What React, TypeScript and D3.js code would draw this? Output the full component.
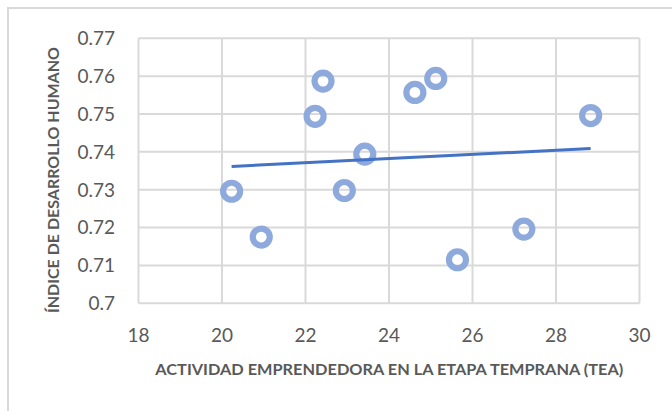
import React from "react";
import * as d3 from "d3";

const tea: number[] = [20.23, 20.94, 22.23, 22.42, 22.93, 23.42, 24.62, 25.12, 25.64, 27.23, 28.83];
const idh: number[] = [0.7296, 0.7175, 0.7494, 0.7587, 0.7298, 0.7394, 0.7557, 0.7594, 0.7115, 0.7196, 0.7496];
const xTicks: number[] = [18, 20, 22, 24, 26, 28, 30];
const yTicks: number[] = [0.7, 0.71, 0.72, 0.73, 0.74, 0.75, 0.76, 0.77];
const xTitle = "ACTIVIDAD EMPRENDEDORA EN LA ETAPA TEMPRANA (TEA)";
const yTitle = "ÍNDICE DE DESARROLLO HUMANO";

const W = 672;
const H = 411;
const plot = { left: 138.5, right: 639.5, top: 38.3, bottom: 303.3 };

export default function App() {
  const x = d3.scaleLinear().domain([18, 30]).range([plot.left, plot.right]);
  const y = d3.scaleLinear().domain([0.7, 0.77]).range([plot.bottom, plot.top]);

  // least squares trendline
  const mx = d3.mean(tea) as number;
  const my = d3.mean(idh) as number;
  let sxy = 0;
  let sxx = 0;
  tea.forEach((v, i) => {
    sxy += (v - mx) * (idh[i] - my);
    sxx += (v - mx) * (v - mx);
  });
  const slope = sxy / sxx;
  const intercept = my - slope * mx;
  const x0 = d3.min(tea) as number;
  const x1 = d3.max(tea) as number;
  const trend = d3
    .line<number>()
    .x((d) => x(d))
    .y((d) => y(intercept + slope * d))([x0, x1]) as string;

  const grid = "#d9d9d9";
  const textColor = "#595959";
  const font = "Lato, 'Open Sans', sans-serif";

  return (
    <svg
      width={W}
      height={H}
      style={{ position: "absolute", left: 0, top: 0, background: "#fff" }}
    >
      <rect x={8} y={8} width={800} height={600} fill="#fff" stroke={grid} strokeWidth={2} />
      {/* horizontal gridlines */}
      {yTicks.map((t) => (
        <line key={"h" + t} x1={plot.left} x2={plot.right} y1={y(t)} y2={y(t)} stroke={grid} strokeWidth={2} />
      ))}
      {/* vertical gridlines */}
      {xTicks.map((t) => (
        <line key={"v" + t} x1={x(t)} x2={x(t)} y1={plot.top} y2={plot.bottom} stroke={grid} strokeWidth={2} />
      ))}
      {/* y tick labels */}
      {yTicks.map((t) => (
        <text
          key={"yl" + t}
          x={115}
          y={y(t)}
          dy="0.36em"
          textAnchor="end"
          fontFamily={font}
          fontSize={19}
          fill={textColor}
        >
          {d3.format("")(+t.toFixed(2))}
        </text>
      ))}
      {/* x tick labels */}
      {xTicks.map((t) => (
        <text
          key={"xl" + t}
          x={x(t)}
          y={335}
          dy="0.36em"
          textAnchor="middle"
          fontFamily={font}
          fontSize={19}
          fill={textColor}
        >
          {t}
        </text>
      ))}
      {/* points */}
      {tea.map((v, i) => (
        <circle
          key={"p" + i}
          cx={x(v)}
          cy={y(idh[i])}
          r={8.5}
          fill="none"
          stroke="#8eaadc"
          strokeWidth={6.2}
        />
      ))}
      {/* trendline */}
      <path d={trend} fill="none" stroke="#4472c4" strokeWidth={3} />
      {/* axis titles */}
      <text
        x={389.3}
        y={369.5}
        dy="0.35em"
        textAnchor="middle"
        fontFamily={font}
        fontWeight="bold"
        fontSize={16}
        fill={textColor}
        textLength={468}
        lengthAdjust="spacingAndGlyphs"
      >
        {xTitle}
      </text>
      <text
        transform={`translate(53.5,180) rotate(-90)`}
        dy="0.35em"
        textAnchor="middle"
        fontFamily={font}
        fontWeight="bold"
        fontSize={16}
        fill={textColor}
        textLength={266}
        lengthAdjust="spacingAndGlyphs"
      >
        {yTitle}
      </text>
    </svg>
  );
}
